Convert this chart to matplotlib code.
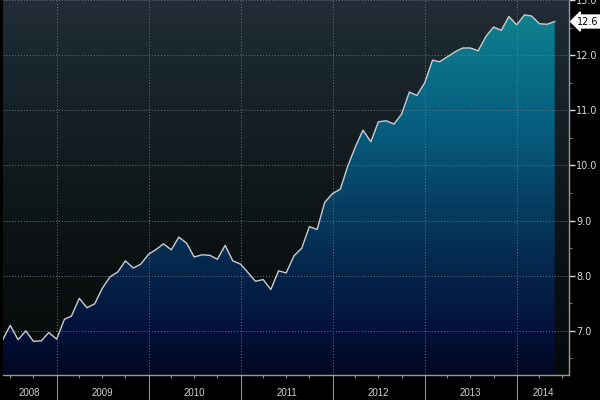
import numpy as np
import pandas as pd
import matplotlib
matplotlib.use("Agg")
from matplotlib import pyplot as plt
import matplotlib.dates as mdates
from matplotlib.colors import LinearSegmentedColormap

# monthly values, Jun 2008 .. Jun 2014
start = "2008-06-01"
values = [6.84, 7.10, 6.84, 7.00, 6.81, 6.82, 6.97, 6.85, 7.21, 7.27,
          7.59, 7.42, 7.49, 7.77, 7.98, 8.07, 8.27, 8.14, 8.21, 8.39,
          8.48, 8.58, 8.47, 8.70, 8.59, 8.34, 8.38, 8.37, 8.30, 8.55,
          8.27, 8.21, 8.05, 7.90, 7.93, 7.75, 8.09, 8.05, 8.36, 8.50,
          8.89, 8.84, 9.33, 9.49, 9.57, 9.98, 10.34, 10.64, 10.43, 10.79,
          10.81, 10.75, 10.93, 11.33, 11.27, 11.50, 11.91, 11.88, 11.97, 12.06,
          12.13, 12.13, 12.08, 12.34, 12.51, 12.45, 12.70, 12.55, 12.73, 12.71,
          12.57, 12.56, 12.61]
years = [2008, 2009, 2010, 2011, 2012, 2013, 2014]
yticks = [7.0, 8.0, 9.0, 10.0, 11.0, 12.0, 13.0]
last_label = "12.6"

dates = pd.date_range(start, periods=len(values), freq="MS")
x = mdates.date2num(dates)
y = np.array(values)

x0 = x[0]
x1 = mdates.date2num(pd.Timestamp("2014-07-28"))
y0, y1 = 6.2, 13.0

fig = plt.figure(figsize=(6, 4), dpi=100, facecolor="black")
ax = fig.add_axes([0.0045, 0.0625, 0.944, 0.9375])
ax.set_facecolor("black")

# background gradient
bg = LinearSegmentedColormap.from_list("bg", [
    (0.0, "#060909"), (0.35, "#0c1214"), (0.55, "#121a1d"),
    (0.75, "#17222a"), (0.9, "#1c2930"), (1.0, "#242c38")])
grad = np.linspace(0, 1, 256).reshape(-1, 1)
ax.imshow(grad, cmap=bg, aspect="auto", origin="lower",
          extent=[x0, x1, y0, y1], zorder=0)

# area fill gradient, clipped to the area under the line
fc = LinearSegmentedColormap.from_list("fc", [
    (0.0, "#020722"), (0.12, "#03123a"), (0.3, "#05284e"),
    (0.45, "#063e62"), (0.65, "#075c7e"), (0.85, "#0a7389"), (1.0, "#138690")])
img = ax.imshow(grad, cmap=fc, aspect="auto", origin="lower",
                extent=[x0, x1, y0, y1], zorder=1)
poly = ax.fill_between(x, y, y0, facecolor="none", edgecolor="none")
img.set_clip_path(poly.get_paths()[0], transform=ax.transData)

ax.plot(x, y, color="#c9cdd0", lw=1.0, zorder=3)

ax.set_xlim(x0, x1)
ax.set_ylim(y0, y1)

# grid
for v in yticks:
    ax.axhline(v, color="#70757a", lw=0.7, ls=(0, (1, 2)), zorder=2)
year_starts = [mdates.date2num(pd.Timestamp(f"{yr}-01-01")) for yr in years[1:]]
for v in year_starts:
    ax.axvline(v, color="#70757a", lw=0.7, ls=(0, (1, 2)), zorder=2)

# y axis on the right
ax.yaxis.tick_right()
ax.set_yticks(yticks)
ax.set_yticklabels([f"{v:.1f}" for v in yticks])
ax.set_yticks(np.arange(6.5, 13.0, 1.0), minor=True)
ax.tick_params(axis="y", which="major", colors="#d8d8d8", labelsize=7,
               length=4, width=1, pad=1)
ax.tick_params(axis="y", which="minor", color="#909090", length=2.5)

# x axis: year separators + quarterly minor ticks
ax.set_xticks(year_starts)
ax.set_xticklabels([])
ax.tick_params(axis="x", which="major", color="#909090", length=19, width=0.8)
qticks = mdates.date2num(pd.date_range("2008-07-01", "2014-07-01", freq="QS"))
ax.set_xticks(qticks, minor=True)
ax.tick_params(axis="x", which="minor", color="#909090", length=2.5, width=0.8)

bounds = [x0] + year_starts + [x1]
for i, yr in enumerate(years):
    ax.text((bounds[i] + bounds[i + 1]) / 2, -0.035, str(yr),
            transform=ax.get_xaxis_transform(), ha="center", va="top",
            color="#d0d0d0", fontsize=7, family="Liberation Sans")

for s in ["top", "left"]:
    ax.spines[s].set_visible(False)
for s in ["bottom", "right"]:
    ax.spines[s].set_color("#9a9a9a")
    ax.spines[s].set_linewidth(1)

# last value marker
ax.annotate(last_label, xy=(1.0, y[-1]), xycoords=("axes fraction", "data"),
            xytext=(6, 0), textcoords="offset points", ha="left", va="center",
            fontsize=7, color="black",
            bbox=dict(boxstyle="larrow,pad=0.15", fc="white", ec="white"),
            annotation_clip=False)

fig.savefig("out.png", dpi=100, facecolor=fig.get_facecolor())
